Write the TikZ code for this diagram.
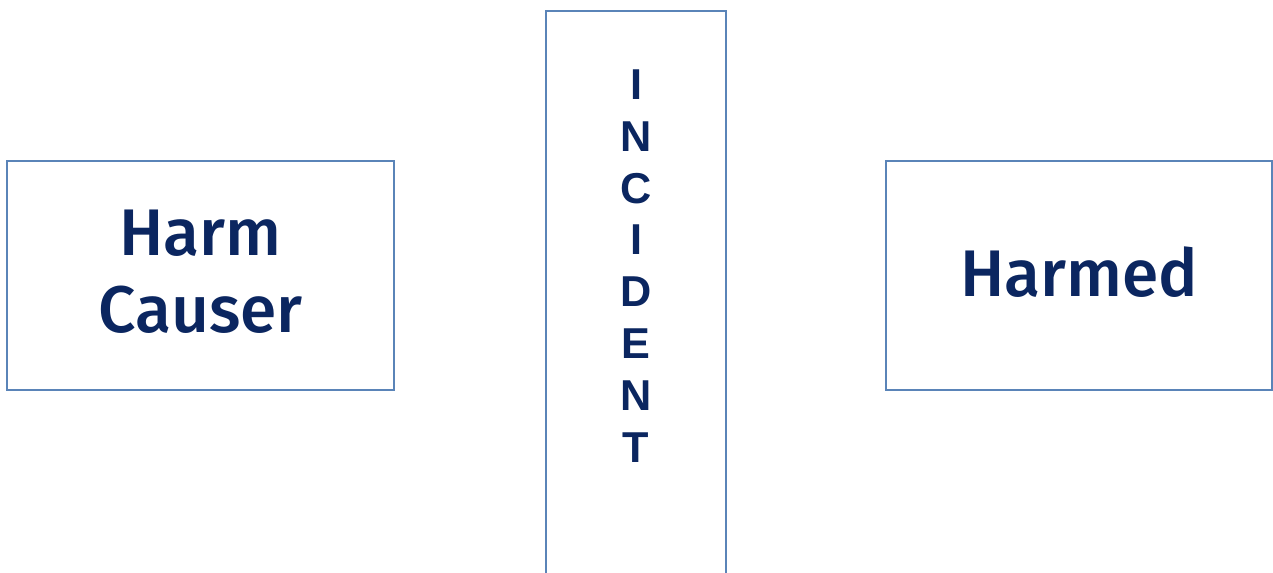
\documentclass[tikz,border=0pt]{standalone}
\usepackage{fontspec}
\setmainfont{Fira Sans}[BoldFont={Fira Sans Medium}]
\newfontfamily\letterfont{Liberation Sans}
\usepackage{xcolor}
\definecolor{navytext}{HTML}{0B2660}
\definecolor{edgeblue}{HTML}{5A84B8}
\tikzset{
  box/.style={draw=edgeblue, line width=0.9pt, fill=white, inner sep=0pt},
  label/.style={text=navytext, align=center, inner sep=0pt,
    font=\bfseries\fontsize{37.5}{44}\selectfont},
  upright/.style={text=navytext, align=center, inner sep=0pt,
    font=\letterfont\bfseries\fontsize{24.6}{29.5}\selectfont}
}
\begin{document}
\begin{tikzpicture}
  \useasboundingbox (0,0) rectangle (25.46,11.46);
  % three boxes
  \node[box, minimum width=7.74cm, minimum height=4.58cm] (causer) at (4.01,5.95) {};
  \node[box, minimum width=3.6cm, minimum height=12.5cm, anchor=north] (incident) at (12.72,11.26) {};
  \node[box, minimum width=7.72cm, minimum height=4.58cm] (harmed) at (21.58,5.95) {};

  \node[label] (causertext) at (4.01,6.02) {Harm\\Causer};
  \node[label] (harmedtext) at (21.58,6.02) {Harmed};
  \node[upright] (incidenttext) at (12.72,6.14) {I\\N\\C\\I\\D\\E\\N\\T};
\end{tikzpicture}
\end{document}
